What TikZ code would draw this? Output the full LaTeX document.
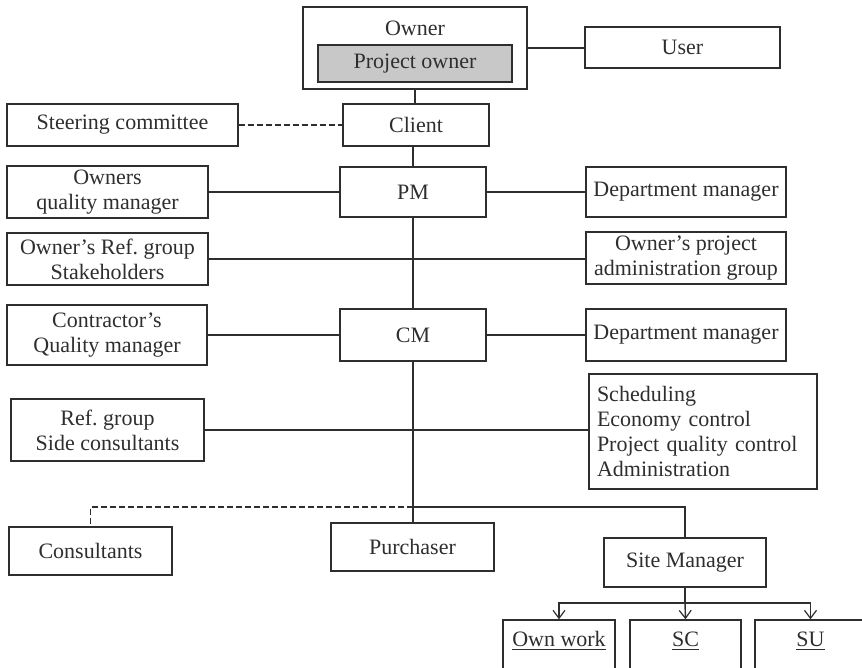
\documentclass[tikz,border=0pt]{standalone}
\usepackage{fontspec}
\setmainfont{Liberation Serif}
\usetikzlibrary{arrows.meta}
\definecolor{ink}{HTML}{2E2E2E}
\definecolor{boxgray}{HTML}{C8C8C8}
\tikzset{
  bx/.style={draw=ink, line width=0.7pt, rectangle, inner sep=2pt, text=ink, align=center, font=\fontsize{11}{12.5}\selectfont\frenchspacing},
  lbl/.style={text=ink, inner sep=0pt, align=center, font=\fontsize{11}{12.5}\selectfont\frenchspacing},
  conn/.style={draw=ink, line width=0.7pt},
  dconn/.style={draw=ink, line width=0.6pt, dash pattern=on 3pt off 1.5pt},
  arr/.style={conn, -{Straight Barb[length=4pt,width=6pt,line width=0.6pt]}}
}
\begin{document}
\begin{tikzpicture}[x=0.5pt,y=-0.5pt]
\useasboundingbox (0,0) rectangle (862,668);
% owner group
\node[bx, minimum width=112pt, minimum height=41pt] (owner) at (415,48) {};
\node[lbl] (ownerlbl) at (415,28) {Owner};
\node[bx, fill=boxgray, minimum width=97pt, minimum height=18.5pt] (projowner) at (415,63.5) {Project owner};
\node[bx, minimum width=97.5pt, minimum height=20.5pt] (user) at (682.5,47.5) {User};
\node[bx, minimum width=73pt, minimum height=21pt] (client) at (416,125) {Client};
\node[bx, minimum width=115.5pt, minimum height=21pt] (steer) at (122.5,125) {Steering committee};
% PM row
\node[bx, minimum width=73pt, minimum height=25pt] (pm) at (413,192) {PM};
\node[bx, minimum width=100.5pt, minimum height=25pt] (oqm) at (107.5,192) {Owners\\quality manager};
\node[bx, minimum width=100pt, minimum height=25pt] (dmone) at (686,192) {Department manager};
\node[bx, minimum width=100.5pt, minimum height=26pt] (orefg) at (107.5,259) {Owner's Ref.\ group\\Stakeholders};
\node[bx, minimum width=100pt, minimum height=26pt] (opag) at (686,258) {Owner's project\\administration group};
% CM row
\node[bx, minimum width=73pt, minimum height=26pt] (cm) at (413,335) {CM};
\node[bx, minimum width=100pt, minimum height=30pt] (cqm) at (107,335) {Contractor's\\Quality manager};
\node[bx, minimum width=100pt, minimum height=26pt] (dmtwo) at (686,335) {Department manager};
\node[bx, minimum width=96.5pt, minimum height=31pt] (rgsc) at (107.5,430) {Ref.\ group\\Side consultants};
\node[bx, align=left, minimum width=114pt, minimum height=57.5pt, text width=106pt] (sched) at (703,431.5) {Scheduling\\Economy control\\Project quality control\\Administration};
% bottom
\node[bx, minimum width=81.5pt, minimum height=24pt] (consult) at (90.5,551) {Consultants};
\node[bx, minimum width=81.5pt, minimum height=24pt] (purch) at (412.5,547) {Purchaser};
\node[bx, minimum width=81pt, minimum height=24.5pt] (site) at (685,562.5) {Site Manager};
\node[bx, minimum width=56pt, minimum height=35pt] (own) at (559,655) {};
\node[bx, minimum width=55.5pt, minimum height=35pt] (sc) at (685.5,655) {};
\node[bx, minimum width=55.5pt, minimum height=35pt] (su) at (810.5,655) {};
\node[lbl] (ownt) at (559,641) {\underline{Own work}};
\node[lbl] (sct) at (685.5,641) {\underline{SC}};
\node[lbl] (sut) at (810.5,641) {\underline{SU}};
\coordinate (j) at (413,507);
\coordinate (k) at (685,603);
% connectors
\draw[conn] (owner.east) -- (owner.east -| user.west);
\draw[conn] (owner.south) -- (owner.south |- client.north);
\draw[dconn] (steer.east) -- (client.west);
\draw[conn] (client.south -| pm.north) -- (pm.north);
\draw[conn] (oqm.east) -- (pm.west);
\draw[conn] (pm.east) -- (dmone.west);
\draw[conn] (orefg.east) -- (orefg.east -| opag.west);
\draw[conn] (pm.south) -- (cm.north);
\draw[conn] (cqm.east) -- (cm.west);
\draw[conn] (cm.east) -- (dmtwo.west);
\draw[conn] (rgsc.east) -- (rgsc.east -| sched.west);
\draw[conn] (cm.south) -- (cm.south |- purch.north);
\draw[dconn] (j) -| (consult.north);
\draw[conn] (j) -| (site.north);
\draw[conn] (site.south) -- (k);
\draw[arr] (k) -| (own.north);
\draw[arr] (k) -| (su.north);
\draw[arr] (k) -- (sc.north);
\end{tikzpicture}
\end{document}
